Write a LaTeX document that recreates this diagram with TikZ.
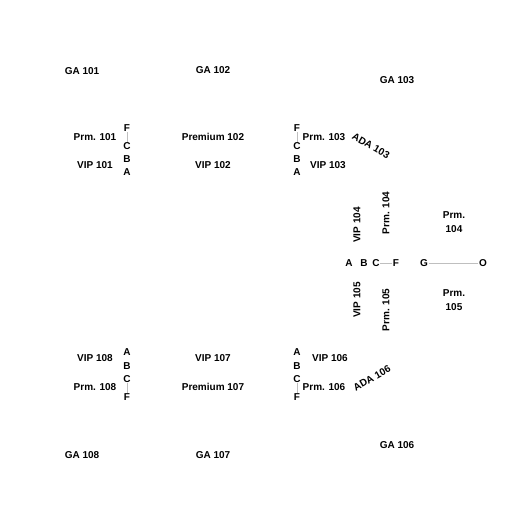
\documentclass[tikz,border=0pt]{standalone}
\usepackage{fontspec}
\setmainfont{Liberation Sans}
\usetikzlibrary{positioning}

\begin{document}
\begin{tikzpicture}[x=1pt, y=-1pt,
    every node/.style={font=\fontsize{10}{14}\selectfont\bfseries, inner sep=1pt},
    seat/.style={inner sep=0.5pt},
    link/.style={draw=black!25, line width=0.6pt}]

    \useasboundingbox (0,0) rectangle (525,525);

    % gates
    \node (ga101) at (82,71) {GA 101};
    \node (ga102) at (213,70) {GA 102};
    \node (ga103) at (397,80) {GA 103};
    \node (ga106) at (397,445) {GA 106};
    \node (ga107) at (213,455) {GA 107};
    \node (ga108) at (82,455) {GA 108};

    % block 101
    \node (prm101) at (95,137) {Prm. 101};
    \node (vip101) at (95,165) {VIP 101};
    \node[seat] (f1) at (127,128) {F};
    \node[seat] (c1) at (127,146) {C};
    \node[seat] (b1) at (127,159) {B};
    \node[seat] (a1) at (127,172) {A};
    \draw[link] (f1) -- (c1);

    % block 102
    \node (prm102) at (213,137) {Premium 102};
    \node (vip102) at (213,165) {VIP 102};

    % block 103
    \node[seat] (f3) at (297,128) {F};
    \node[seat] (c3) at (297,146) {C};
    \node[seat] (b3) at (297,159) {B};
    \node[seat] (a3) at (297,172) {A};
    \draw[link] (f3) -- (c3);
    \node (prm103) at (324,137) {Prm. 103};
    \node (vip103) at (328,165) {VIP 103};
    \node[rotate=-30, inner sep=0pt] (ada103) at (371,146) {ADA 103};

    % block 104 / 105
    \node[rotate=90] (vip104) at (357,225) {VIP 104};
    \node[rotate=90] (prm104a) at (386,213) {Prm. 104};
    \node[align=center] (prm104b) at (454,222) {Prm.\\104};
    \node[seat] (a4) at (349,263) {A};
    \node[seat] (b4) at (364,263) {B};
    \node[seat] (c4) at (376,263) {C};
    \node[seat] (f4) at (396,263) {F};
    \draw[link] (c4) -- (f4);
    \node[seat] (g4) at (424,263) {G};
    \node[seat] (o4) at (483,263) {O};
    \draw[link] (g4) -- (o4);
    \node[rotate=90] (vip105) at (357,300) {VIP 105};
    \node[rotate=90] (prm105a) at (386,310) {Prm. 105};
    \node[align=center] (prm105b) at (454,300) {Prm.\\105};

    % block 106
    \node[seat] (a6) at (297,352) {A};
    \node[seat] (b6) at (297,366) {B};
    \node[seat] (c6) at (297,379) {C};
    \node[seat] (f6) at (297,397) {F};
    \draw[link] (c6) -- (f6);
    \node (vip106) at (330,358) {VIP 106};
    \node (prm106) at (324,387) {Prm. 106};
    \node[rotate=30, inner sep=0pt] (ada106) at (372,378) {ADA 106};

    % block 107
    \node (vip107) at (213,358) {VIP 107};
    \node (prm107) at (213,387) {Premium 107};

    % block 108
    \node (vip108) at (95,358) {VIP 108};
    \node (prm108) at (95,387) {Prm. 108};
    \node[seat] (a8) at (127,352) {A};
    \node[seat] (b8) at (127,366) {B};
    \node[seat] (c8) at (127,379) {C};
    \node[seat] (f8) at (127,397) {F};
    \draw[link] (c8) -- (f8);

\end{tikzpicture}
\end{document}
